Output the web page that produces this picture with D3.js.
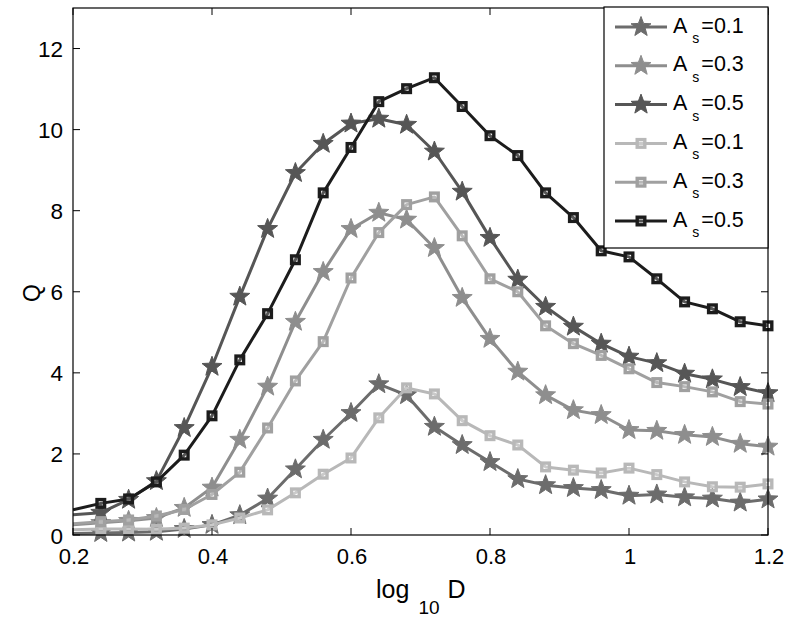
<!DOCTYPE html>
<html><head><meta charset="utf-8">
<script src="https://cdn.jsdelivr.net/npm/d3@7"></script>
<style>body{margin:0;background:#fff}svg{display:block}text{font-family:"Liberation Sans",Arial,sans-serif;}</style>
</head><body><div id="chart"></div>
<script>
const xs = [0.20,0.24,0.28,0.32,0.36,0.40,0.44,0.48,0.52,0.56,0.60,0.64,0.68,0.72,0.76,0.80,0.84,0.88,0.92,0.96,1.00,1.04,1.08,1.12,1.16,1.20];
const starA01 = [0.04,0.05,0.06,0.08,0.15,0.25,0.49,0.9,1.62,2.35,3.01,3.72,3.45,2.67,2.22,1.8,1.38,1.23,1.16,1.11,0.97,1.0,0.93,0.9,0.8,0.88];
const starA03 = [0.25,0.3,0.35,0.42,0.67,1.17,2.35,3.66,5.26,6.49,7.55,7.95,7.78,7.08,5.85,4.84,4.03,3.45,3.08,2.96,2.59,2.57,2.47,2.42,2.25,2.18];
const starA05 = [0.5,0.55,0.87,1.33,2.64,4.15,5.88,7.55,8.93,9.65,10.15,10.27,10.12,9.46,8.47,7.33,6.3,5.63,5.14,4.72,4.4,4.24,3.98,3.84,3.65,3.5];
const sqA01 = [0.13,0.15,0.15,0.14,0.17,0.25,0.42,0.62,1.04,1.5,1.9,2.89,3.63,3.48,2.82,2.45,2.22,1.68,1.6,1.53,1.65,1.49,1.31,1.19,1.18,1.26];
const sqA03 = [0.28,0.33,0.37,0.47,0.63,1.0,1.55,2.64,3.8,4.77,6.34,7.46,8.15,8.34,7.38,6.32,6.0,5.16,4.72,4.43,4.1,3.76,3.66,3.53,3.29,3.23];
const sqA05 = [0.62,0.78,0.89,1.31,1.97,2.94,4.32,5.46,6.79,8.44,9.56,10.69,11.01,11.28,10.57,9.85,9.36,8.44,7.83,7.01,6.86,6.32,5.75,5.58,5.26,5.16];
const legendLabels = ["0.1","0.3","0.5","0.1","0.3","0.5"];
const xTicks = [0.2,0.4,0.6,0.8,1,1.2];
const yTicks = [0,2,4,6,8,10,12];

const series = [
  {vals: starA01, marker:"star",   color:"#6c6c6c", label:legendLabels[0]},
  {vals: starA03, marker:"star",   color:"#8e8e8e", label:legendLabels[1]},
  {vals: starA05, marker:"star",   color:"#565656", label:legendLabels[2]},
  {vals: sqA01,   marker:"square", color:"#b8b8b8", label:legendLabels[3]},
  {vals: sqA03,   marker:"square", color:"#a0a0a0", label:legendLabels[4]},
  {vals: sqA05,   marker:"square", color:"#1c1c1c", label:legendLabels[5]}
];

const W=786,H=620, L=73, R=768, T=8, B=535;
const svg = d3.select("#chart").append("svg").attr("width",W).attr("height",H);
const x = d3.scaleLinear().domain([0.2,1.2]).range([L,R]);
const y = d3.scaleLinear().domain([0,13]).range([B,T]);

svg.append("defs").append("clipPath").attr("id","clip")
  .append("rect").attr("x",L).attr("y",T).attr("width",R-L).attr("height",B-T);

const starPath = (r)=>{
  const ri = r*0.42; let p=[];
  for(let i=0;i<10;i++){
    const a = -Math.PI/2 + i*Math.PI/5;
    const rr = i%2===0 ? r : ri;
    p.push([rr*Math.cos(a), rr*Math.sin(a)]);
  }
  return "M"+p.map(d=>d[0].toFixed(2)+","+d[1].toFixed(2)).join("L")+"Z";
};
function drawMarker(g, type, color, cx, cy){
  if(type==="star"){
    g.append("path").attr("d",starPath(10.5)).attr("transform",`translate(${cx},${cy})`)
      .attr("fill",color).attr("stroke",color).attr("stroke-width",1);
  } else {
    g.append("rect").attr("x",cx-3.8).attr("y",cy-3.8).attr("width",7.6).attr("height",7.6)
      .attr("fill","#fff").attr("fill-opacity",0.25).attr("stroke",color).attr("stroke-width",3.4);
  }
}

const line = d3.line().x((d,i)=>x(xs[i])).y(d=>y(d));
const plot = svg.append("g");
series.forEach(s=>{
  plot.append("path").datum(s.vals).attr("d",line).attr("clip-path","url(#clip)")
    .attr("fill","none").attr("stroke",s.color).attr("stroke-width",3).attr("stroke-linejoin","round");
  const mg = plot.append("g");
  s.vals.forEach((v,i)=>{ if(xs[i]>0.2+1e-9) drawMarker(mg, s.marker, s.color, x(xs[i]), y(v)); });
});

// frame and ticks
const axG = svg.append("g");
const tl = 7;
xTicks.forEach(t=>{
  axG.append("line").attr("x1",x(t)).attr("x2",x(t)).attr("y1",B).attr("y2",B-tl).attr("stroke","#000");
  axG.append("line").attr("x1",x(t)).attr("x2",x(t)).attr("y1",T).attr("y2",T+tl).attr("stroke","#000");
  axG.append("text").attr("x",x(t)+1).attr("y",B+29).attr("text-anchor","middle")
    .attr("font-size",22).text(d3.format("")(t));
});
yTicks.forEach(t=>{
  axG.append("line").attr("x1",L).attr("x2",L+tl).attr("y1",y(t)).attr("y2",y(t)).attr("stroke","#000");
  axG.append("line").attr("x1",R).attr("x2",R-tl).attr("y1",y(t)).attr("y2",y(t)).attr("stroke","#000");
  axG.append("text").attr("x",L-10).attr("y",y(t)+8.5).attr("text-anchor","end")
    .attr("font-size",22.5).text(t);
});
axG.append("rect").attr("x",L).attr("y",T).attr("width",R-L).attr("height",B-T)
  .attr("fill","none").attr("stroke","#000").attr("stroke-width",1.2);

// axis labels
const xl = svg.append("text").attr("x",376).attr("y",598).attr("font-size",25);
xl.append("tspan").text("log");
xl.append("tspan").attr("dx",9).attr("dy",16).attr("font-size",19).text("10");
xl.append("tspan").attr("dx",8).attr("dy",-16).text("D");
svg.append("text").attr("transform","translate(40,293) rotate(-90)").attr("text-anchor","middle")
  .attr("font-size",23).text("Q");

// legend
const lg = svg.append("g");
lg.append("rect").attr("x",604).attr("y",T-1).attr("width",R-604).attr("height",241)
  .attr("fill","#fff").attr("stroke","#000").attr("stroke-width",1.2);
series.forEach((s,i)=>{
  const cy = 27 + i*38.8;
  lg.append("line").attr("x1",615).attr("x2",667).attr("y1",cy).attr("y2",cy)
    .attr("stroke",s.color).attr("stroke-width",3);
  drawMarker(lg, s.marker, s.color, 641, cy);
  const t = lg.append("text").attr("x",673).attr("y",cy+5.5).attr("font-size",21.5);
  t.append("tspan").text("A");
  t.append("tspan").attr("dx",5).attr("dy",10.5).attr("font-size",14).text("s");
  t.append("tspan").attr("dx",2).attr("dy",-10.5).text("=" + s.label);
});
</script></body></html>
